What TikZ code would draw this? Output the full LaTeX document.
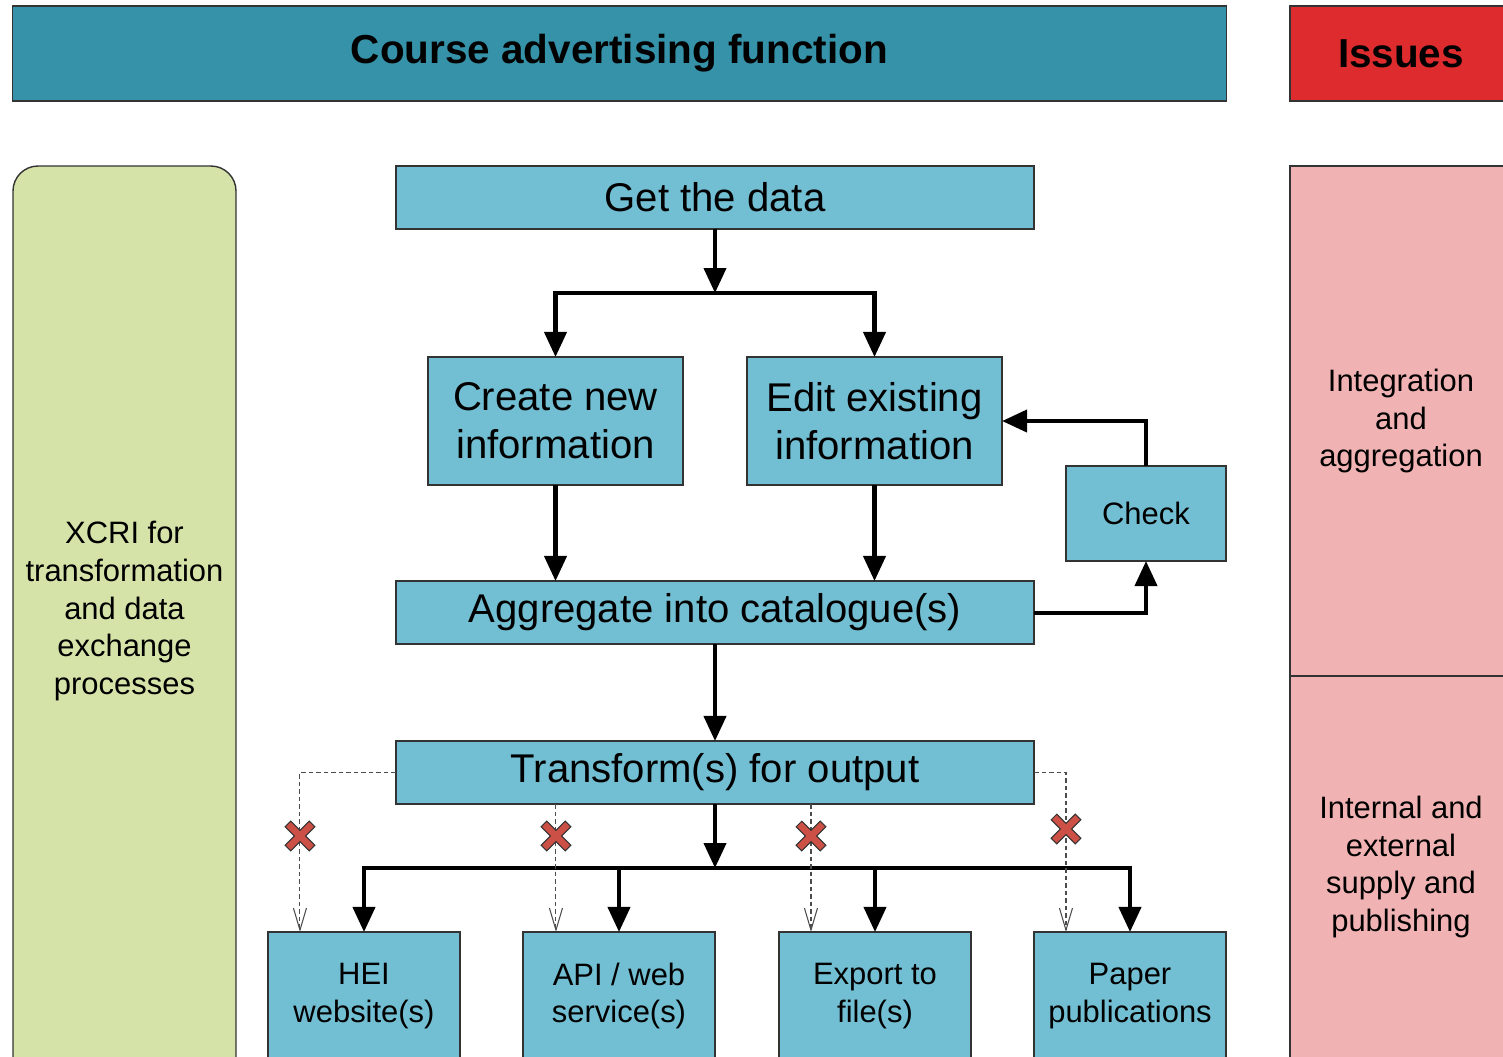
\documentclass[tikz,border=0pt]{standalone}
\usepackage{fontspec}
\setmainfont{Liberation Sans}
\usetikzlibrary{arrows.meta}
\definecolor{titleblue}{RGB}{53,146,168}
\definecolor{boxblue}{RGB}{114,190,210}
\definecolor{issuered}{RGB}{222,44,46}
\definecolor{panelgreen}{RGB}{214,227,168}
\definecolor{panelpink}{RGB}{240,178,178}
\definecolor{xred}{RGB}{205,80,70}
\tikzset{
  stepbox/.style={draw=black!80, line width=0.4pt, fill=boxblue, inner sep=0pt, outer sep=0pt, align=center},
  panel/.style={draw=black!80, line width=0.4pt},
  bigtext/.style={font=\fontsize{11.4}{13.7}\selectfont},
  smalltext/.style={font=\fontsize{8.8}{10.7}\selectfont},
  headtext/.style={font=\fontsize{11.5}{13.5}\selectfont\bfseries},
  flow/.style={line width=1.15pt, -{Triangle[length=2.5mm, width=2.2mm]}},
  dashline/.style={black!70, line width=0.3pt, dash pattern=on 0.45mm off 0.3mm, -{Straight Barb[length=2.2mm, width=1.3mm]}},
  crossmark/.pic={
    \filldraw[fill=xred, draw=black!80, line width=0.3pt, rotate=45]
      (4,17) -- (4,4) -- (17,4) -- (17,-4) -- (4,-4) -- (4,-17)
      -- (-4,-17) -- (-4,-4) -- (-17,-4) -- (-17,4) -- (-4,4) -- (-4,17) -- cycle;
  }
}
\begin{document}
\begin{tikzpicture}[x=0.01cm, y=-0.01cm]
\useasboundingbox (0,0) rectangle (1503,1056);
\clip (0,0) rectangle (1503,1056);
% headers and side panels
\node[stepbox, fill=titleblue, minimum width=12.13cm, minimum height=0.95cm, headtext] (title) at (619.5,53.5) {Course advertising function};
\node[stepbox, fill=issuered, minimum width=2.22cm, minimum height=0.95cm, headtext] (issues) at (1401,53.5) {Issues};
\draw[panel, fill=panelgreen, rounded corners=0.25cm] (13,166) rectangle (236,1100);
\draw[panel, fill=panelpink] (1290,166) rectangle (1512,676);
\draw[panel, fill=panelpink] (1290,676) rectangle (1512,1100);
\node[align=center, smalltext] (xcri) at (124.5,611) {XCRI for\\transformation\\and data\\exchange\\processes};
\node[align=center, smalltext] (integ) at (1401,421) {Integration\\and\\aggregation};
\node[align=center, smalltext] (supply) at (1401,867) {Internal and\\external\\supply and\\publishing};
% process boxes
\node[stepbox, minimum width=6.38cm, minimum height=0.63cm, bigtext] (get) at (715,197.5) {Get the data};
\node[stepbox, minimum width=2.55cm, minimum height=1.28cm, bigtext] (create) at (555.5,421) {Create new\\information};
\node[stepbox, minimum width=2.55cm, minimum height=1.28cm, bigtext] (edit) at (874.5,421) {Edit existing\\information};
\node[stepbox, minimum width=1.60cm, minimum height=0.95cm, smalltext] (check) at (1146,513.5) {Check};
\node[stepbox, minimum width=6.38cm, minimum height=0.63cm, bigtext] (agg) at (715,612.5) {Aggregate into catalogue(s)};
\node[stepbox, minimum width=6.38cm, minimum height=0.63cm, bigtext] (trans) at (715,772.5) {Transform(s) for output};
\node[stepbox, minimum width=1.92cm, minimum height=1.28cm, smalltext] (hei) at (364,996) {HEI\\website(s)};
\node[stepbox, minimum width=1.92cm, minimum height=1.28cm, smalltext] (api) at (619,996) {API / web\\service(s)};
\node[stepbox, minimum width=1.92cm, minimum height=1.28cm, smalltext] (export) at (875,996) {Export to\\file(s)};
\node[stepbox, minimum width=1.92cm, minimum height=1.28cm, smalltext] (paper) at (1130,996) {Paper\\publications};
% flow arrows
\coordinate (split) at (715,293);
\coordinate (fan) at (715,868);
\draw[flow] (get.south) -- (split);
\draw[flow] (split) -| (create.north);
\draw[flow] (split) -| (edit.north);
\draw[flow] (create.south) -- (create.south |- agg.north);
\draw[flow] (edit.south) -- (edit.south |- agg.north);
\draw[flow] (agg.east) -| (check.south);
\draw[flow] (check.north) |- (edit.east);
\draw[flow] (agg.south) -- (trans.north);
\draw[flow] (trans.south) -- (fan);
\draw[flow] (fan) -| (hei.north);
\draw[flow] (fan) -| (api.north);
\draw[flow] (fan) -| (export.north);
\draw[flow] (fan) -| (paper.north);
% direct outputs, crossed out
\coordinate (heiin) at ([xshift=0.32cm]hei.north west);
\coordinate (apiin) at ([xshift=0.33cm]api.north west);
\coordinate (exportin) at ([xshift=0.32cm]export.north west);
\coordinate (paperin) at ([xshift=0.32cm]paper.north west);
\draw[dashline] (trans.west) -| (heiin);
\draw[dashline] (trans.south -| apiin) -- (apiin);
\draw[dashline] (trans.south -| exportin) -- (exportin);
\draw[dashline] (trans.east) -| (paperin);
\pic at (300,836) {crossmark};
\pic at (556,836) {crossmark};
\pic at (811,836) {crossmark};
\pic at (1066,829) {crossmark};
\end{tikzpicture}
\end{document}
